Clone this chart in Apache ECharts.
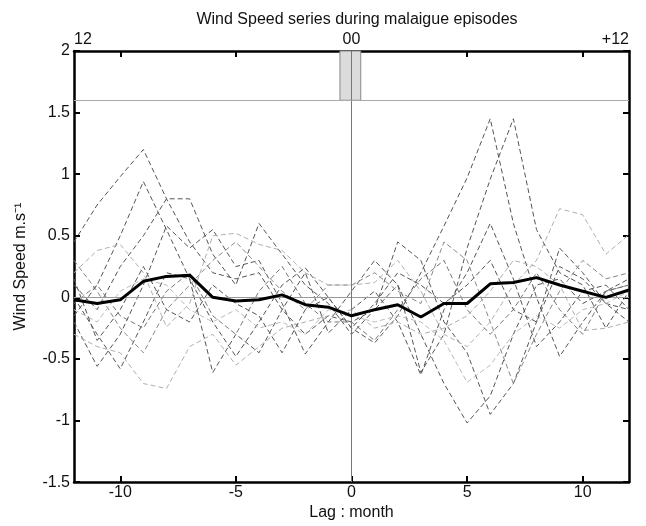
<!DOCTYPE html>
<html>
<head>
<meta charset="utf-8">
<script src="https://cdn.jsdelivr.net/npm/echarts@6/dist/echarts.min.js"></script>
<style>html,body{margin:0;padding:0;background:#fff}#c{width:646px;height:526px}</style>
</head>
<body>
<div id="c"></div>
<script>
// Lag in months
var lags = [-12,-11,-10,-9,-8,-7,-6,-5,-4,-3,-2,-1,0,1,2,3,4,5,6,7,8,9,10,11,12];
// Composite (mean) wind speed anomaly
var meanSpeed = [-0.02,-0.05,-0.02,0.13,0.17,0.18,0.0,-0.03,-0.02,0.02,-0.06,-0.08,-0.15,-0.10,-0.06,-0.16,-0.05,-0.05,0.11,0.12,0.16,0.10,0.05,0.0,0.06];
// Individual episodes
var ep1  = [0.45,0.75,0.98,1.2,0.8,0.45,0.2,0.15,0.2,-0.1,-0.3,-0.15,-0.2,-0.1,0.1,-0.3,-0.7,-1.02,-0.8,-0.3,0.1,0.15,-0.05,0.05,0.1];
var ep2  = [-0.15,0.1,0.5,0.94,0.55,0.15,-0.2,-0.48,-0.2,0.1,0.24,0.0,-0.25,-0.37,-0.15,0.2,0.58,0.97,1.45,0.6,0.0,-0.48,-0.2,0.05,0.15];
var ep3  = [0.1,-0.1,0.25,0.5,0.8,0.8,0.35,0.1,0.6,0.35,0.1,-0.05,-0.3,-0.1,0.45,0.3,-0.2,-0.45,-0.95,-0.7,-0.2,0.4,0.2,-0.05,-0.1];
var ep4  = [-0.2,-0.56,-0.3,0.1,0.58,0.4,0.55,0.25,0.3,-0.05,-0.46,-0.2,0.05,0.3,0.1,-0.61,-0.3,0.4,0.96,1.45,0.55,0.2,0.1,-0.25,0.05];
var ep5  = [0.0,-0.3,-0.58,-0.2,0.2,0.15,-0.61,-0.3,-0.45,-0.1,0.2,-0.29,-0.1,0.05,-0.2,-0.63,-0.1,0.2,0.6,0.15,-0.4,-0.2,0.05,0.1,-0.1];
var ep6  = [0.3,0.05,-0.25,-0.45,-0.1,0.1,0.3,0.45,0.25,0.05,-0.1,0.1,0.1,0.2,0.05,-0.05,0.45,0.3,-0.2,-0.7,-0.3,0.05,0.3,0.15,0.2];
var ep7  = [-0.3,-0.4,-0.45,-0.7,-0.74,-0.4,-0.3,-0.55,-0.4,-0.25,-0.2,-0.15,-0.1,-0.25,-0.2,-0.3,-0.25,-0.15,0.05,0.3,0.25,0.1,-0.27,-0.25,-0.2];
var ep8  = [0.2,0.38,0.43,0.2,-0.24,-0.05,0.5,0.52,0.43,0.38,0.2,0.1,0.1,0.12,0.3,0.05,-0.3,-0.4,-0.2,0.1,0.3,0.72,0.67,0.35,0.51];
var ep9  = [-0.05,0.1,-0.15,-0.25,0.05,0.2,-0.15,-0.3,0.05,0.25,-0.05,-0.2,-0.2,-0.35,-0.1,0.15,0.3,-0.1,-0.3,-0.1,0.2,-0.1,-0.3,0.05,0.1];
var ep10 = [-0.1,-0.2,0.05,0.15,0.1,-0.1,-0.2,-0.1,-0.25,-0.2,-0.3,-0.1,-0.15,-0.2,-0.15,-0.2,-0.35,-0.69,-0.55,-0.3,-0.15,-0.25,-0.1,-0.05,0.05];
var ep11 = [0.15,-0.35,-0.1,0.25,-0.1,-0.2,0.1,-0.05,-0.15,-0.45,-0.1,0.0,-0.25,-0.05,0.2,0.1,-0.05,0.1,0.3,-0.1,-0.2,0.25,0.15,-0.05,-0.2];
var episodes = [ep1,ep2,ep3,ep4,ep5,ep6,ep7,ep8,ep9,ep10,ep11];
var episodeColors = ['#555','#555','#555','#555','#555','#888','#b0b0b0','#b0b0b0','#777','#bbbbbb','#555'];
// Tick labels
var xTicks = [-10,-5,0,5,10];
var topLabelVals = [-12,0,12];
var topLabelText = {'-12':'12','0':'00','12':'+12'};
var topTicks = [-10,-5,5,10];
var eventBox = [-0.5,0.4];
var stripLevel = 1.6;

function pairs(v){ return lags.map(function(l,i){ return [l, v[i]]; }); }

var FONT = 'Liberation Sans';
var FS = 16;
var series = [];
episodes.forEach(function(ep, k){
  series.push({
    type:'line', data: pairs(ep), symbol:'none', silent:true, z:2,
    lineStyle:{color: episodeColors[k], width:1, type:[5,3]}
  });
});
series.push({
  type:'line', data: pairs(meanSpeed), symbol:'none', silent:true, z:5,
  lineStyle:{color:'#000', width:3},
  markLine:{
    silent:true, symbol:'none', label:{show:false},
    data:[
      {yAxis:0, lineStyle:{color:'#999', width:1, type:'solid'}},
      {xAxis:0, lineStyle:{color:'#777', width:1, type:'solid'}},
      {yAxis:stripLevel, lineStyle:{color:'#aaa', width:1, type:'solid'}}
    ]
  },
  markArea:{
    silent:true,
    itemStyle:{color:'#dcdcdc', borderColor:'#888', borderWidth:1},
    data:[[{xAxis:eventBox[0], yAxis:stripLevel},{xAxis:eventBox[1], yAxis:2}]]
  }
});

var chart = echarts.init(document.getElementById('c'));
chart.setOption({
  animation:false,
  backgroundColor:'#fff',
  title:{text:'Wind Speed series during malaigue episodes', left:352, textAlign:'center', top:7,
    textStyle:{fontFamily:FONT, fontSize:FS, fontWeight:'normal', color:'#111'}},
  grid:{left:74, right:17, top:51, bottom:38},
  xAxis:[{
    type:'value', min:-12, max:12, position:'bottom',
    name:'Lag : month', nameLocation:'middle', nameGap:22,
    nameTextStyle:{fontFamily:FONT, fontSize:FS, color:'#111'},
    axisLine:{show:true, onZero:false, lineStyle:{color:'#000', width:2.5}},
    axisTick:{show:true, inside:true, length:6, lineStyle:{color:'#000', width:2}, customValues:xTicks},
    axisLabel:{fontFamily:FONT, fontSize:FS, color:'#111', margin:2, customValues:xTicks},
    splitLine:{show:false}
  },{
    type:'value', min:-12, max:12, position:'top',
    axisLine:{show:true, onZero:false, lineStyle:{color:'#000', width:2.5}},
    axisTick:{show:true, inside:true, length:6, lineStyle:{color:'#000', width:2}, customValues:topTicks},
    axisLabel:{fontFamily:FONT, fontSize:FS, color:'#111', margin:3, customValues:topLabelVals,
      alignMinLabel:'left', alignMaxLabel:'right',
      formatter:function(v){ return topLabelText[String(v)]; }},
    splitLine:{show:false}
  }],
  yAxis:[{
    type:'value', min:-1.5, max:2, interval:0.5, position:'left',
    name:'Wind Speed m.s\u207B\u00B9', nameLocation:'middle', nameGap:45,
    nameTextStyle:{fontFamily:FONT, fontSize:FS, color:'#111'},
    axisLine:{show:true, onZero:false, lineStyle:{color:'#000', width:2.5}},
    axisTick:{show:true, inside:true, length:6, lineStyle:{color:'#000', width:2}},
    axisLabel:{fontFamily:FONT, fontSize:FS, color:'#111', margin:4},
    splitLine:{show:false}
  },{
    type:'value', min:-1.5, max:2, interval:0.5, position:'right',
    axisLine:{show:true, onZero:false, lineStyle:{color:'#000', width:2.5}},
    axisTick:{show:true, inside:true, length:6, lineStyle:{color:'#000', width:2}},
    axisLabel:{show:false},
    splitLine:{show:false}
  }],
  series: series
});
</script>
</body>
</html>
